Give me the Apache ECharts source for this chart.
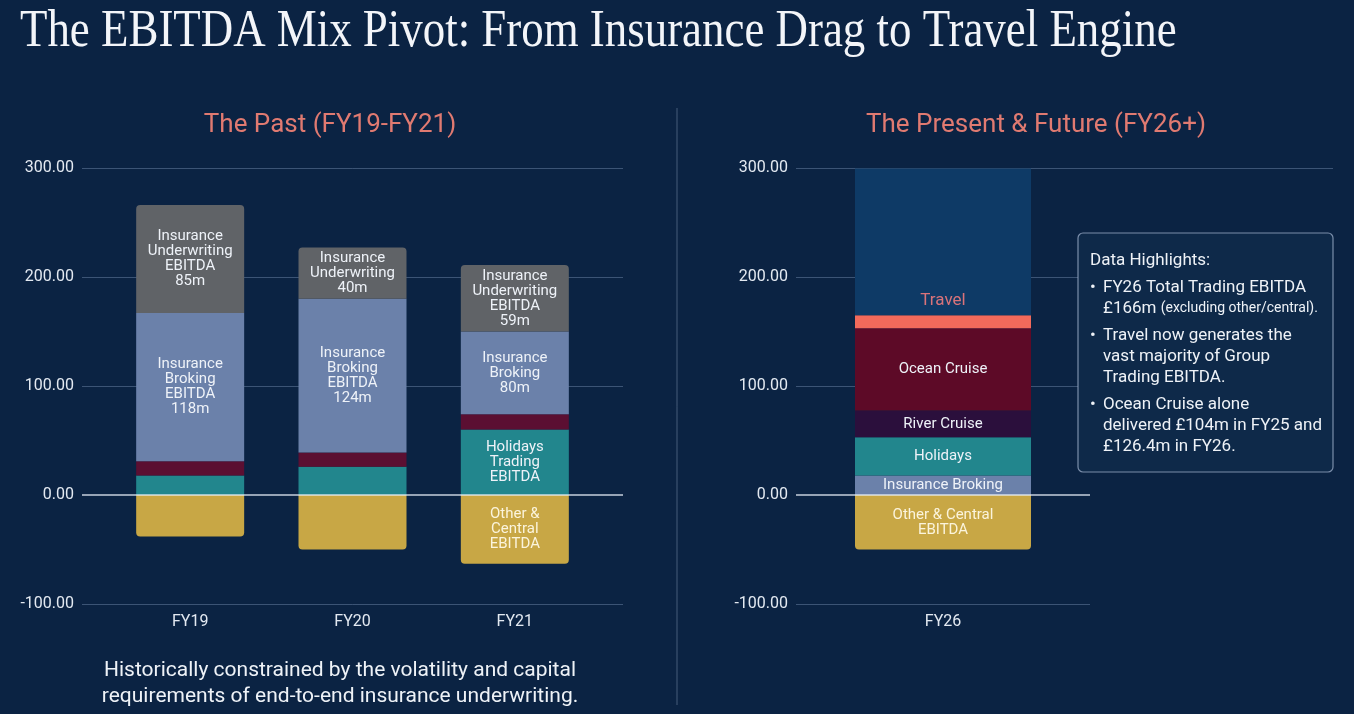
<!DOCTYPE html>
<html>
<head>
<meta charset="utf-8">
<script src="https://cdn.jsdelivr.net/npm/echarts@6/dist/echarts.min.js"></script>
<style>
  html, body { margin: 0; padding: 0; background: #0b2343; }
  #chart { width: 1354px; height: 714px; }
</style>
</head>
<body>
<div id="chart"></div>
<script>
// past chart (FY19-FY21)
var pastYears = ['FY19', 'FY20', 'FY21'];
var pastHolidays = [18, 26, 60];
var pastCruise = [13, 13, 14];
var pastBroking = [136, 141, 76];
var pastUnderwriting = [99, 47, 61];
var pastOther = [-38, -50, -63];

var pastHolidaysLbl = ['', '', 'Holidays\nTrading\nEBITDA'];
var pastBrokingLbl = ['Insurance\nBroking\nEBITDA\n118m', 'Insurance\nBroking\nEBITDA\n124m', 'Insurance\nBroking\n80m'];
var pastUnderwritingLbl = ['Insurance\nUnderwriting\nEBITDA\n85m', 'Insurance\nUnderwriting\n40m', 'Insurance\nUnderwriting\nEBITDA\n59m'];
var pastOtherLbl = ['', '', 'Other &\nCentral\nEBITDA'];

// present chart (FY26)
var nowYears = ['FY26'];
var nowBroking = [18];
var nowHolidays = [35];
var nowRiver = [24.5];
var nowOcean = [75.5];
var nowTravel = [12];
var nowTravelBlock = [134.5];
var nowOther = [-50];

var yTicks = { min: -100, max: 300, interval: 100 };

var lineCol = 'rgba(120,145,180,0.45)';
var zeroCol = 'rgba(230,238,248,0.85)';
var sans = 'Roboto';
var txt = '#eef2f7';

var myChart = echarts.init(document.getElementById('chart'));

function lbl(arr, color) {
    return {
        show: true,
        position: 'inside',
        color: color || '#eef2f8',
        fontFamily: sans,
        fontSize: 15,
        lineHeight: 15,
        formatter: function (p) { return arr[p.dataIndex]; }
    };
}

function valAxis(grid, opt) {
    var a = {
        type: 'value',
        gridIndex: grid,
        min: yTicks.min,
        max: yTicks.max,
        interval: yTicks.interval,
        axisLine: { show: false },
        axisTick: { show: false },
        axisLabel: { show: false },
        splitLine: { show: true, lineStyle: { color: lineCol, width: 1 } }
    };
    return Object.assign(a, opt || {});
}

var axisLabelStyle = {
    show: true,
    color: '#e3e9f1',
    fontFamily: sans,
    fontSize: 16,
    margin: 8,
    formatter: function (v) { return v.toFixed(2); }
};

function boxText(x, y, text, extra) {
    return {
        type: 'text', x: x, y: y, z: 101,
        style: Object.assign({ text: text, fill: txt, font: '17px Roboto', lineHeight: 21, verticalAlign: 'top' }, extra || {})
    };
}

option = {
    backgroundColor: '#0b2343',
    animation: false,
    title: [{
        text: 'The Past (FY19-FY21)',
        left: 325,
        top: 107,
        textAlign: 'center',
        textStyle: { color: '#e07a71', fontFamily: sans, fontWeight: 'normal', fontSize: 26 }
    }, {
        text: 'The Present & Future (FY26+)',
        left: 1031,
        top: 107,
        textAlign: 'center',
        textStyle: { color: '#e07a71', fontFamily: sans, fontWeight: 'normal', fontSize: 26 }
    }, {
        text: 'Historically constrained by the volatility and capital\nrequirements of end-to-end insurance underwriting.',
        left: 335,
        top: 653,
        textAlign: 'center',
        textStyle: { color: txt, fontFamily: sans, fontWeight: 'normal', fontSize: 21, lineHeight: 26 }
    }],
    grid: [
        { left: 82, width: 541, top: 168, height: 436 },   // left gridlines
        { left: 109, width: 487, top: 168, height: 436 },  // left bars
        { left: 796, width: 294, top: 168, height: 436 },  // right bars + gridlines
        { left: 1090, width: 243, top: 168, height: 436 }  // right upper lines stretch
    ],
    xAxis: [
        { type: 'category', gridIndex: 0, data: pastYears, show: false },
        {
            type: 'category', gridIndex: 1, data: pastYears,
            axisLine: { show: false }, axisTick: { show: false },
            axisLabel: { color: '#e3e9f1', fontFamily: sans, fontSize: 16, margin: 10 }
        },
        {
            type: 'category', gridIndex: 2, data: nowYears,
            axisLine: { show: false }, axisTick: { show: false },
            axisLabel: { color: '#e3e9f1', fontFamily: sans, fontSize: 16, margin: 10 }
        },
        { type: 'category', gridIndex: 3, data: nowYears, show: false }
    ],
    yAxis: [
        valAxis(0, {
            axisLabel: axisLabelStyle,
            splitLine: { show: true, lineStyle: { color: [lineCol, 'transparent', lineCol, lineCol, lineCol] } }
        }),
        valAxis(0, { z: 10, splitLine: { show: true, lineStyle: { color: ['transparent', zeroCol, 'transparent', 'transparent', 'transparent'], width: 1.5 } } }),
        valAxis(1, { splitLine: { show: false } }),
        valAxis(2, {
            axisLabel: axisLabelStyle,
            splitLine: { show: true, lineStyle: { color: [lineCol, 'transparent', lineCol, lineCol, lineCol] } }
        }),
        valAxis(2, { z: 10, splitLine: { show: true, lineStyle: { color: ['transparent', zeroCol, 'transparent', 'transparent', 'transparent'], width: 1.5 } } }),
        valAxis(3, { splitLine: { show: true, lineStyle: { color: ['transparent', 'transparent', lineCol, lineCol, lineCol] } } })
    ],
    series: [{
        name: 'Holidays Trading EBITDA', type: 'bar', stack: 'past', xAxisIndex: 1, yAxisIndex: 2,
        barWidth: 108, data: pastHolidays,
        itemStyle: { color: '#22868d' }, label: lbl(pastHolidaysLbl)
    }, {
        name: 'Cruise', type: 'bar', stack: 'past', xAxisIndex: 1, yAxisIndex: 2,
        barWidth: 108, data: pastCruise,
        itemStyle: { color: '#5b0f32' }
    }, {
        name: 'Insurance Broking EBITDA', type: 'bar', stack: 'past', xAxisIndex: 1, yAxisIndex: 2,
        barWidth: 108, data: pastBroking,
        itemStyle: { color: '#6b81aa' }, label: lbl(pastBrokingLbl)
    }, {
        name: 'Insurance Underwriting EBITDA', type: 'bar', stack: 'past', xAxisIndex: 1, yAxisIndex: 2,
        barWidth: 108, data: pastUnderwriting,
        itemStyle: { color: '#606367', borderRadius: [4, 4, 0, 0] }, label: lbl(pastUnderwritingLbl)
    }, {
        name: 'Other & Central EBITDA', type: 'bar', stack: 'past', xAxisIndex: 1, yAxisIndex: 2,
        barWidth: 108, data: pastOther,
        itemStyle: { color: '#c8a745', borderRadius: [0, 0, 4, 4] }, label: lbl(pastOtherLbl, '#fbf4dc')
    },
    // FY26
    {
        name: 'Insurance Broking', type: 'bar', stack: 'now', xAxisIndex: 2, yAxisIndex: 3,
        barWidth: 176, data: nowBroking,
        itemStyle: { color: '#6b81aa' }, label: lbl(['Insurance Broking'])
    }, {
        name: 'Holidays', type: 'bar', stack: 'now', xAxisIndex: 2, yAxisIndex: 3,
        barWidth: 176, data: nowHolidays,
        itemStyle: { color: '#22868d' }, label: lbl(['Holidays'])
    }, {
        name: 'River Cruise', type: 'bar', stack: 'now', xAxisIndex: 2, yAxisIndex: 3,
        barWidth: 176, data: nowRiver,
        itemStyle: { color: '#2b0f3c' }, label: lbl(['River Cruise'])
    }, {
        name: 'Ocean Cruise', type: 'bar', stack: 'now', xAxisIndex: 2, yAxisIndex: 3,
        barWidth: 176, data: nowOcean,
        itemStyle: { color: '#5d0a27' }, label: lbl(['Ocean Cruise'])
    }, {
        name: 'Travel', type: 'bar', stack: 'now', xAxisIndex: 2, yAxisIndex: 3,
        barWidth: 176, data: nowTravel,
        itemStyle: { color: '#f26a5b' },
        label: { show: true, position: 'top', distance: 6, color: '#d9737a', fontFamily: sans, fontSize: 17, formatter: 'Travel' }
    }, {
        name: 'Travel block', type: 'bar', stack: 'now', xAxisIndex: 2, yAxisIndex: 3,
        barWidth: 176, data: nowTravelBlock,
        itemStyle: { color: '#0e3a66' }
    }, {
        name: 'Other & Central', type: 'bar', stack: 'now', xAxisIndex: 2, yAxisIndex: 3,
        barWidth: 176, data: nowOther,
        itemStyle: { color: '#c8a745', borderRadius: [0, 0, 4, 4] }, label: lbl(['Other & Central\nEBITDA'], '#fbf4dc')
    }],
    graphic: [{
        type: 'text',
        x: 20, y: 32, scaleY: 1.18,
        style: {
            text: 'The EBITDA Mix Pivot: From Insurance Drag to Travel Engine',
            fill: '#f3f5f9', font: '44.9px "Liberation Serif"', verticalAlign: 'middle'
        }
    }, {
        type: 'line',
        shape: { x1: 677, y1: 108, x2: 677, y2: 705 },
        style: { stroke: 'rgba(120,140,170,0.55)', lineWidth: 1 }
    }, {
        type: 'rect', z: 100,
        shape: { x: 1078, y: 233, width: 255, height: 239, r: 5 },
        style: { fill: '#0e2949', stroke: 'rgba(150,168,195,0.8)', lineWidth: 1.2 }
    },
        boxText(1090, 250, 'Data Highlights:'),
        boxText(1090, 277, '•'),
        {
            type: 'text', x: 1103, y: 277, z: 101,
            style: {
                text: '{a|FY26 Total Trading EBITDA}\n{a|£166m }{s|(excluding other/central).}',
                fill: txt, verticalAlign: 'top', lineHeight: 21,
                rich: {
                    a: { fill: txt, font: '17px Roboto', lineHeight: 21 },
                    s: { fill: txt, font: '14px Roboto', lineHeight: 21 }
                }
            }
        },
        boxText(1090, 325.5, '•'),
        boxText(1103, 325.5, 'Travel now generates the\nvast majority of Group\nTrading EBITDA.'),
        boxText(1090, 394.5, '•'),
        boxText(1103, 394.5, 'Ocean Cruise alone\ndelivered £104m in FY25 and\n£126.4m in FY26.')
    ]
};

myChart.setOption(option);
window.addEventListener("resize", function () {
    myChart.resize();
});
</script>
</body>
</html>
